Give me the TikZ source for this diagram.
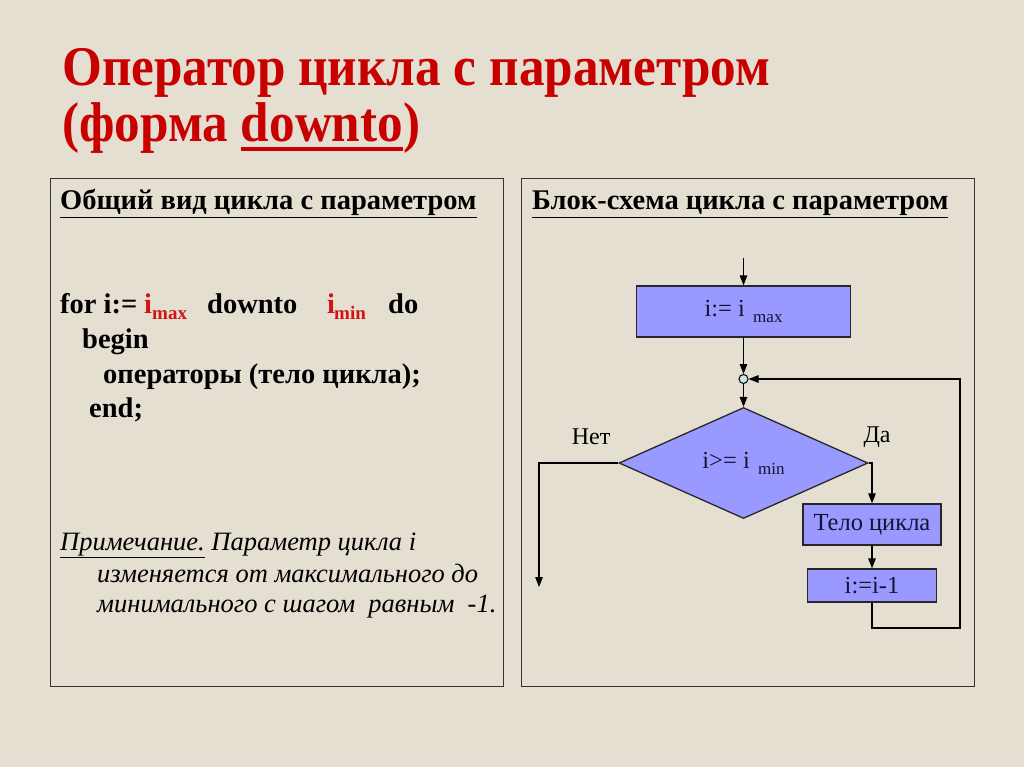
\documentclass[tikz,border=0pt]{standalone}
\usepackage{fontspec}
\setmainfont{Liberation Serif}
\usetikzlibrary{shapes.geometric,arrows.meta}
\definecolor{bg}{RGB}{229,223,209}
\definecolor{titlered}{RGB}{200,0,0}
\definecolor{subred}{RGB}{210,20,20}
\definecolor{boxblue}{RGB}{153,153,255}
\definecolor{jcol}{RGB}{200,235,225}
\definecolor{boxtext}{RGB}{20,20,50}
\newlength\titlew
\newcommand\thul[1]{\leavevmode\setbox0\hbox{#1}\rlap{\raisebox{-9pt}{\rule{\wd0}{3.5pt}}}\box0}
\tikzset{
  panel/.style={draw=black!80, line width=1pt},
  ttl/.style={anchor=base west, inner sep=0pt, text=titlered, font=\fontsize{56}{60}\selectfont\bfseries},
  hdr/.style={anchor=base west, inner sep=0pt, font=\fontsize{28.5}{32}\selectfont\bfseries},
  code/.style={anchor=base west, inner sep=0pt, font=\fontsize{28.5}{32}\selectfont\bfseries},
  codesub/.style={anchor=base west, inner sep=0pt, text=subred, font=\fontsize{19}{20}\selectfont\bfseries},
  note/.style={anchor=base west, inner sep=0pt, font=\fontsize{26.5}{30}\selectfont\itshape},
  fbox/.style={draw=black!85, fill=boxblue, line width=1.3pt, inner sep=0pt, text=boxtext, font=\fontsize{24.5}{26}\selectfont},
  lbl/.style={inner sep=0pt, font=\fontsize{24}{26}\selectfont},
  arr/.style={line width=1.3pt, -{Triangle[length=10pt,width=7.5pt]}},
}
\begin{document}
\settowidth\titlew{\fontsize{56}{60}\selectfont\bfseries Оператор цикла с параметром}%
\pgfmathsetmacro\tsx{708/\titlew}%
\begin{tikzpicture}[x=1pt,y=-1pt]
\useasboundingbox (0,0) rectangle (1024,767);
\fill[bg] (0,0) rectangle (1024,767);
% title
\node[ttl] (t1) at (62,86) {\scalebox{\tsx}[1]{Оператор цикла с параметром}};
\node[ttl] (t2) at (62,142) {\scalebox{\tsx}[1]{(форма \thul{downto})}};
% panels
\draw[panel] (50,179) rectangle (503,686);
\draw[panel] (521,179) rectangle (974,686);
\node[hdr] (h1) at (60,210) {\underline{Общий вид цикла с параметром}};
\node[hdr] (h2) at (532,210) {\underline{Блок-схема цикла с параметром}};
% code
\node[code] (c1) at (60,313) {for i:=};
\node[code, text=subred] (c1i) at (144,313) {i};
\node[codesub] (c1m) at (152,319) {max};
\node[code] (c1d) at (207,313) {downto};
\node[code, text=subred] (c1j) at (327,313) {i};
\node[codesub] (c1n) at (334,319) {min};
\node[code] (c1o) at (388,313) {do};
\node[code] (c2) at (82,348) {begin};
\node[code] (c3) at (103,383) {операторы (тело цикла);};
\node[code] (c4) at (89,417) {end;};
% note
\node[note] (n1) at (60,550) {\underline{Примечание.} Параметр цикла i};
\node[note] (n2) at (97,582) {изменяется от максимального до};
\node[note] (n3) at (97,612) {минимального с шагом\ \ равным\ \ -1.};
% flowchart
\coordinate (start) at (743.5,258);
\node[fbox, rectangle, minimum width=214pt, minimum height=51pt] (init) at (743.5,311.5) {i:= i\,\raisebox{-6pt}{\fontsize{17}{18}\selectfont\ max}};
\node[circle, draw=black, fill=jcol, line width=1pt, minimum size=9pt, inner sep=0pt] (j) at (743.5,379) {};
\node[fbox, diamond, aspect=2.24, minimum width=249pt, minimum height=111pt] (cond) at (743.5,463) {i>= i\,\raisebox{-6pt}{\fontsize{17}{18}\selectfont\ min}};
\node[fbox, rectangle, minimum width=138pt, minimum height=41pt] (body) at (872,524.5) {Тело цикла};
\node[fbox, rectangle, minimum width=129pt, minimum height=33pt] (dec) at (872,585.5) {i:=i-1};
\coordinate (noend) at (539,587);
\coordinate (noc) at (539,463);
\coordinate (loopc) at (960,628);
\node[lbl] (net) at (591,437) {Нет};
\node[lbl] (da) at (877,437) {Да};
\draw[arr] (start) -- (init.north);
\draw[arr] (init.south) -- (j.north);
\draw[arr] (j.south) -- (cond.north);
\draw[arr] (cond.west) -- (noc) -- (noend);
\draw[arr] (cond.east) -| (body.north);
\draw[arr] (body.south) -- (dec.north);
\draw[arr] (dec.south) |- (loopc) |- (j.east);
\end{tikzpicture}
\end{document}
